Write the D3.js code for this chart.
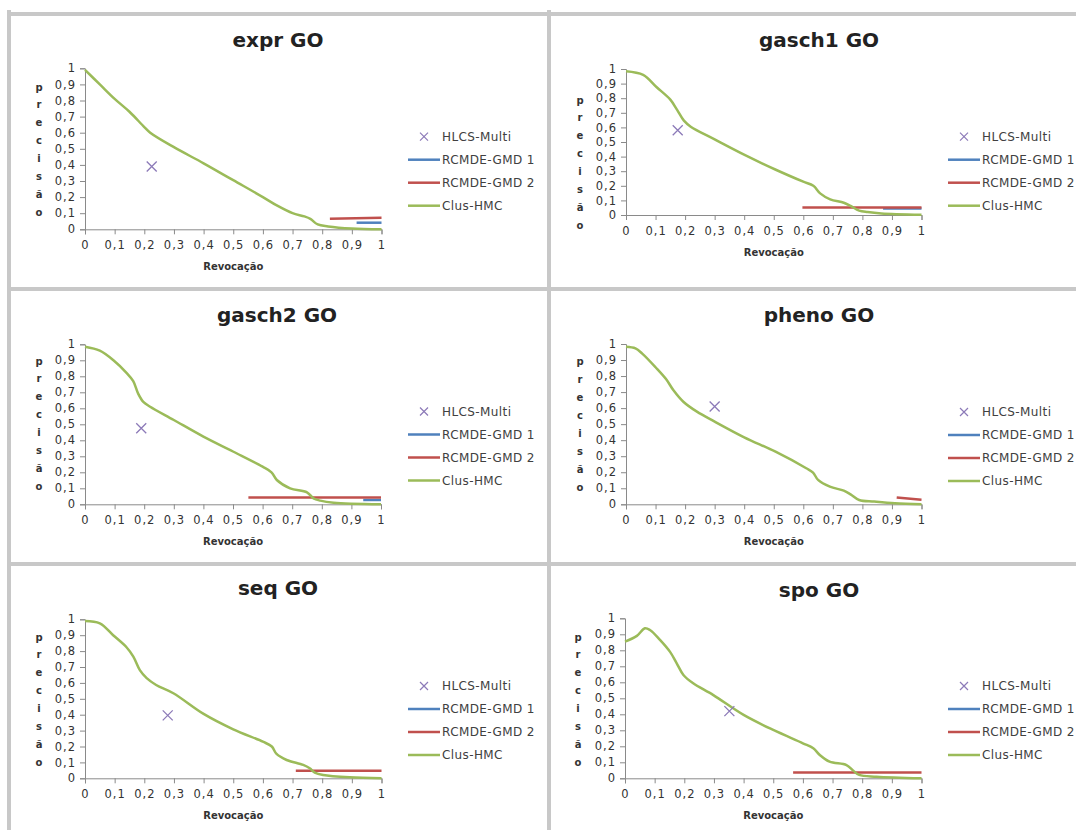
<!DOCTYPE html>
<html>
<head>
<meta charset="utf-8">
<script src="https://cdn.jsdelivr.net/npm/d3@7"></script>
<style>
  html, body { margin: 0; padding: 0; background: #ffffff; }
  svg { display: block; overflow: hidden; }
  text { font-family: "DejaVu Sans", Verdana, sans-serif; }
</style>
</head>
<body>
<svg id="chart" width="1076" height="830"></svg>
<script>
// ---- Data -------------------------------------------------------------
const panelTitles = ["expr GO", "gasch1 GO", "gasch2 GO", "pheno GO", "seq GO", "spo GO"];
const seriesNames = ["HLCS-Multi", "RCMDE-GMD 1", "RCMDE-GMD 2", "Clus-HMC"];
const axisTicks = [0, 0.1, 0.2, 0.3, 0.4, 0.5, 0.6, 0.7, 0.8, 0.9, 1];
const xAxisTitle = "Revocação";
const yAxisTitle = "precisão";

// HLCS-Multi: a single [recall, precision] point per dataset
const hlcsMulti = [
  [0.225, 0.39],
  [0.175, 0.58],
  [0.19, 0.475],
  [0.30, 0.61],
  [0.279, 0.396],
  [0.352, 0.42]
];

// RCMDE-GMD 1 curves
const rcmdeGmd1 = [
  [[0.916, 0.041], [1.0, 0.041]],
  [[0.87, 0.045], [1.0, 0.045]],
  [[0.94, 0.027], [1.0, 0.027]],
  [],
  [],
  []
];

// RCMDE-GMD 2 curves
const rcmdeGmd2 = [
  [[0.826, 0.066], [1.0, 0.071]],
  [[0.597, 0.052], [1.0, 0.052]],
  [[0.552, 0.042], [1.0, 0.042]],
  [[0.916, 0.042], [1.0, 0.028]],
  [[0.711, 0.047], [1.0, 0.047]],
  [[0.567, 0.036], [1.0, 0.036]]
];

// Clus-HMC precision/recall curves
const clusHmc = [
  [[0, 0.99], [0.05, 0.90], [0.1, 0.81], [0.15, 0.73], [0.2, 0.635], [0.22, 0.60],
   [0.3, 0.51], [0.4, 0.41], [0.5, 0.305], [0.6, 0.20], [0.65, 0.145], [0.7, 0.10],
   [0.74, 0.08], [0.76, 0.065], [0.785, 0.03], [0.82, 0.018], [0.9, 0.005], [1, 0.0]],
  [[0, 0.985], [0.058, 0.96], [0.104, 0.875], [0.15, 0.79], [0.173, 0.72], [0.196, 0.646],
   [0.219, 0.605], [0.3, 0.518], [0.403, 0.41], [0.507, 0.31], [0.6, 0.228], [0.634, 0.20],
   [0.657, 0.148], [0.691, 0.107], [0.737, 0.084], [0.76, 0.062], [0.789, 0.03],
   [0.818, 0.02], [0.864, 0.011], [1, 0.002]],
  [[0, 0.985], [0.05, 0.96], [0.096, 0.90], [0.141, 0.82], [0.163, 0.77], [0.18, 0.69],
   [0.197, 0.64], [0.22, 0.61], [0.3, 0.527], [0.4, 0.423], [0.5, 0.33], [0.6, 0.235],
   [0.63, 0.20], [0.648, 0.152], [0.693, 0.10], [0.75, 0.075], [0.772, 0.037],
   [0.795, 0.023], [0.84, 0.01], [1, 0.0]],
  [[0, 0.983], [0.032, 0.973], [0.055, 0.94], [0.1, 0.855], [0.136, 0.78], [0.16, 0.713],
   [0.194, 0.64], [0.24, 0.578], [0.3, 0.516], [0.4, 0.418], [0.506, 0.328], [0.61, 0.225],
   [0.633, 0.198], [0.65, 0.152], [0.69, 0.11], [0.737, 0.085], [0.76, 0.062],
   [0.789, 0.027], [0.84, 0.017], [0.91, 0.006], [1, 0.0]],
  [[0, 0.99], [0.05, 0.975], [0.095, 0.90], [0.14, 0.824], [0.163, 0.765], [0.185, 0.68],
   [0.208, 0.63], [0.24, 0.587], [0.298, 0.535], [0.4, 0.405], [0.5, 0.308], [0.6, 0.23],
   [0.63, 0.20], [0.646, 0.153], [0.68, 0.115], [0.736, 0.084], [0.758, 0.063],
   [0.775, 0.036], [0.803, 0.021], [0.893, 0.006], [1, 0.0]],
  [[0, 0.854], [0.04, 0.89], [0.067, 0.9375], [0.084, 0.927], [0.118, 0.865], [0.152, 0.79],
   [0.174, 0.72], [0.197, 0.646], [0.23, 0.594], [0.298, 0.52], [0.4, 0.396], [0.5, 0.302],
   [0.6, 0.219], [0.635, 0.1875], [0.657, 0.146], [0.69, 0.104], [0.747, 0.083],
   [0.77, 0.048], [0.79, 0.021], [0.848, 0.01], [1, 0.0]]
];

// ---- Layout -----------------------------------------------------------
const frames = [
  {x0: 85,  x1: 381.5, yTop: 68.3,  yBot: 229.3, titleX: 278, titleY: 47,    legX: 408, legY: 136.7, ylabX: 39,  ylabY: 87},
  {x0: 626, x1: 921.5, yTop: 69,    yBot: 215,   titleX: 819, titleY: 47,    legX: 948, legY: 136.7, ylabX: 580, ylabY: 100},
  {x0: 85,  x1: 381,   yTop: 344.3, yBot: 504.3, titleX: 277, titleY: 321.7, legX: 408, legY: 411.5, ylabX: 39,  ylabY: 361},
  {x0: 626, x1: 921.5, yTop: 344,   yBot: 504.3, titleX: 819, titleY: 321.7, legX: 948, legY: 412,   ylabX: 580, ylabY: 361.7},
  {x0: 85,  x1: 381.5, yTop: 619.3, yBot: 778.3, titleX: 278, titleY: 595,   legX: 408, legY: 686,   ylabX: 39,  ylabY: 637},
  {x0: 625, x1: 921.5, yTop: 618.3, yBot: 778.3, titleX: 819, titleY: 596.7, legX: 948, legY: 686,   ylabX: 578, ylabY: 637}
];

const colors = {
  hlcs: "#8c7ab8",
  rcmde1: "#4f81bd",
  rcmde2: "#c0504d",
  clus: "#9bbb59",
  axis: "#8a8a8a",
  text: "#333333",
  border: "#c8c8c8"
};

const ptLocale = d3.formatLocale({decimal: ",", thousands: ".", grouping: [3], currency: ["R$", ""]});
const fmtTick = v => (v === 0 || v === 1) ? String(v) : ptLocale.format(".1f")(v);

const svg = d3.select("#chart");

// ---- Sheet grid separating the six charts ----------------------------
const grid = svg.append("g").attr("stroke", colors.border).attr("stroke-width", 4);
grid.append("line").attr("x1", 9).attr("x2", 9).attr("y1", 10).attr("y2", 830);
grid.append("line").attr("x1", 549).attr("x2", 549).attr("y1", 10).attr("y2", 830);
[14, 289, 564].forEach(y => {
  grid.append("line").attr("x1", 7).attr("x2", 1076).attr("y1", y).attr("y2", y);
});

// ---- One precision/recall chart per dataset --------------------------
frames.forEach((f, i) => {
  const g = svg.append("g");
  const x = d3.scaleLinear().domain([0, 1]).range([f.x0, f.x1]);
  const y = d3.scaleLinear().domain([0, 1]).range([f.yBot, f.yTop]);

  // title
  g.append("text")
    .attr("x", f.titleX).attr("y", f.titleY)
    .attr("text-anchor", "middle")
    .attr("font-size", 20).attr("font-weight", "bold")
    .attr("fill", "#222")
    .text(panelTitles[i]);

  // y axis
  const yAxis = g.append("g")
    .attr("transform", `translate(${f.x0},0)`)
    .call(d3.axisLeft(y).tickValues(axisTicks).tickFormat(fmtTick).tickSize(5).tickPadding(4));
  // x axis
  const xAxis = g.append("g")
    .attr("transform", `translate(0,${f.yBot})`)
    .call(d3.axisBottom(x).tickValues(axisTicks).tickFormat(fmtTick).tickSize(5).tickPadding(7));

  [yAxis, xAxis].forEach(ax => {
    ax.select(".domain").attr("stroke", colors.axis).attr("stroke-width", 1);
    ax.selectAll(".tick line").attr("stroke", colors.axis);
    ax.selectAll(".tick text")
      .attr("font-family", "DejaVu Sans, sans-serif")
      .attr("font-size", 11.5)
      .attr("letter-spacing", 1)
      .attr("fill", colors.text);
  });

  // x axis title
  g.append("text")
    .attr("x", (f.x0 + f.x1) / 2).attr("y", f.yBot + 41)
    .attr("text-anchor", "middle")
    .attr("font-size", 10).attr("font-weight", "bold")
    .attr("fill", colors.text)
    .text(xAxisTitle);

  // y axis title, letters stacked vertically
  g.append("g").selectAll("text")
    .data(Array.from(yAxisTitle))
    .join("text")
    .attr("x", f.ylabX)
    .attr("y", (d, k) => f.ylabY + k * 17.95 + 3.5)
    .attr("text-anchor", "middle")
    .attr("font-size", 10).attr("font-weight", "bold")
    .attr("fill", colors.text)
    .text(d => d);

  const line = d3.line().x(d => x(d[0])).y(d => y(d[1]));
  const smooth = d3.line().x(d => x(d[0])).y(d => y(d[1])).curve(d3.curveCatmullRom.alpha(0.5));

  // RCMDE-GMD 1
  if (rcmdeGmd1[i].length) {
    g.append("path").attr("d", line(rcmdeGmd1[i]))
      .attr("fill", "none").attr("stroke", colors.rcmde1).attr("stroke-width", 2.5);
  }
  // RCMDE-GMD 2
  if (rcmdeGmd2[i].length) {
    g.append("path").attr("d", line(rcmdeGmd2[i]))
      .attr("fill", "none").attr("stroke", colors.rcmde2).attr("stroke-width", 2.5);
  }
  // Clus-HMC
  g.append("path").attr("d", smooth(clusHmc[i]))
    .attr("fill", "none").attr("stroke", colors.clus).attr("stroke-width", 2.5)
    .attr("stroke-linejoin", "round");

  // HLCS-Multi marker
  const [hx, hy] = hlcsMulti[i];
  const s = 5;
  g.append("path")
    .attr("d", `M${x(hx) - s},${y(hy) - s}L${x(hx) + s},${y(hy) + s}M${x(hx) - s},${y(hy) + s}L${x(hx) + s},${y(hy) - s}`)
    .attr("stroke", colors.hlcs).attr("stroke-width", 1.3).attr("fill", "none");

  // legend
  const leg = g.append("g").attr("transform", `translate(${f.legX},${f.legY})`);
  const legendColors = [colors.hlcs, colors.rcmde1, colors.rcmde2, colors.clus];
  seriesNames.forEach((name, k) => {
    const ly = k * 23;
    if (k === 0) {
      const cx = 16;
      leg.append("path")
        .attr("d", `M${cx - 4},${ly - 4}L${cx + 4},${ly + 4}M${cx - 4},${ly + 4}L${cx + 4},${ly - 4}`)
        .attr("stroke", legendColors[k]).attr("stroke-width", 1.2);
    } else {
      leg.append("line").attr("x1", 0).attr("x2", 32).attr("y1", ly).attr("y2", ly)
        .attr("stroke", legendColors[k]).attr("stroke-width", 2.5);
    }
    leg.append("text")
      .attr("x", 34).attr("y", ly + 4)
      .attr("font-size", 12)
      .attr("letter-spacing", 0.4)
      .attr("fill", "#404040")
      .text(name);
  });
});
</script>
</body>
</html>
